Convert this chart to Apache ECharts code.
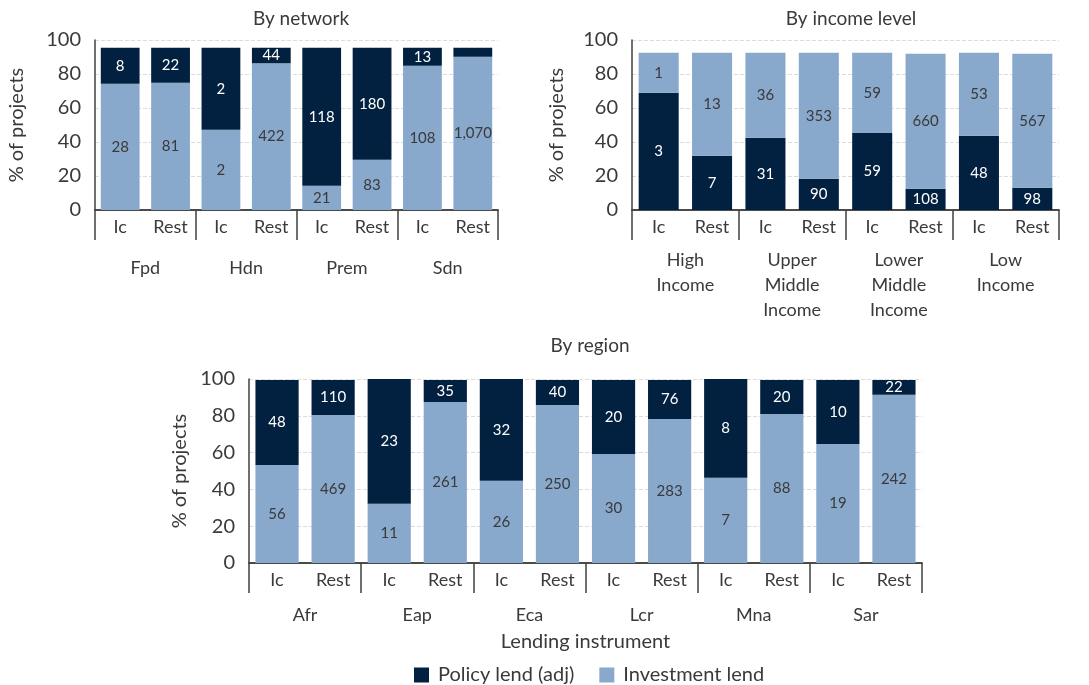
<!DOCTYPE html>
<html>
<head>
<meta charset="utf-8">
<script src="https://cdn.jsdelivr.net/npm/echarts@6/dist/echarts.min.js"></script>
<style>
  html, body { margin: 0; padding: 0; background: #fff; }
  #main { width: 1089px; height: 685px; }
</style>
</head>
<body>
<div id="main"></div>
<script>
// sub categories under each group
const subCats = ['Ic', 'Rest'];

// By network (investment at bottom, policy on top)
const netGroups = ['Fpd', 'Hdn', 'Prem', 'Sdn'];
const netInvest = [74.3, 74.9, 47.2, 86.3, 14.3, 29.6, 84.9, 90.2];
const netPolicy = [21.2, 20.6, 48.3, 9.2, 81.2, 65.9, 10.6, 5.3];
const netInvestLbl = ['28', '81', '2', '422', '21', '83', '108', '1,070'];
const netPolicyLbl = ['8', '22', '2', '44', '118', '180', '13', ''];

// By income level (policy at bottom, investment on top)
const incGroups = ['High\nIncome', 'Upper\nMiddle\nIncome', 'Lower\nMiddle\nIncome', 'Low\nIncome'];
const incPolicy = [69.0, 31.9, 42.5, 18.4, 45.3, 12.5, 43.7, 13.1];
const incInvest = [23.5, 60.6, 50.0, 74.1, 47.2, 79.4, 48.8, 78.8];
const incPolicyLbl = ['3', '7', '31', '90', '59', '108', '48', '98'];
const incInvestLbl = ['1', '13', '36', '353', '59', '660', '53', '567'];

// By region
const regGroups = ['Afr', 'Eap', 'Eca', 'Lcr', 'Mna', 'Sar'];
const regInvest = [53.3, 80.5, 32.2, 87.5, 44.7, 85.9, 59.3, 78.3, 46.3, 81.0, 64.7, 91.4];
const regPolicy = [46.2, 19.0, 67.8, 12.0, 55.3, 13.6, 40.2, 21.2, 53.7, 18.5, 34.8, 8.1];
const regInvestLbl = ['56', '469', '11', '261', '26', '250', '30', '283', '7', '88', '19', '242'];
const regPolicyLbl = ['48', '110', '23', '35', '32', '40', '20', '76', '8', '20', '10', '22'];

const yTicks = { min: 0, max: 100, interval: 20 };

const DARK = '#02203F';
const LIGHT = '#88A8CC';
const TXT = '#3a3a3a';
const FONT = 'Lato';

function subAxis(groups, gridIndex) {
  let d = [];
  groups.forEach(() => { d = d.concat(subCats); });
  return {
    type: 'category', gridIndex: gridIndex, data: d,
    axisLine: { show: true, lineStyle: { color: '#404040', width: 1.5 } },
    axisTick: { show: false },
    axisLabel: { interval: 0, margin: 8, fontSize: 18, color: TXT, fontFamily: FONT },
    splitLine: { show: false }
  };
}

function groupAxis(groups, gridIndex, margin, extra) {
  return Object.assign({
    type: 'category', gridIndex: gridIndex, data: groups, position: 'bottom',
    axisLine: { show: true, lineStyle: { color: '#404040', width: 1.5 } },
    axisTick: { show: true, length: 30, lineStyle: { color: '#404040', width: 1.5 } },
    axisLabel: { interval: 0, margin: margin, fontSize: 18, lineHeight: 25, color: TXT, fontFamily: FONT },
    splitLine: { show: false }
  }, extra || {});
}

function yAxis(gridIndex, nameGap) {
  return {
    type: 'value', gridIndex: gridIndex,
    min: yTicks.min, max: yTicks.max, interval: yTicks.interval,
    name: '% of projects', nameLocation: 'middle', nameGap: nameGap,
    nameTextStyle: { fontSize: 20, color: TXT, fontFamily: FONT },
    axisLine: { show: true, lineStyle: { color: '#404040', width: 1.5 } },
    axisTick: { show: false },
    axisLabel: { fontSize: 20, color: TXT, margin: 14, fontFamily: FONT },
    splitLine: { show: true, lineStyle: { color: '#dcdcdc', type: 'dashed' } }
  };
}

function barSeries(name, data, labels, color, labelColor, xi, yi, stack, gap) {
  return {
    name: name, type: 'bar', stack: stack, data: data,
    xAxisIndex: xi, yAxisIndex: yi,
    barCategoryGap: gap,
    itemStyle: { color: color },
    label: {
      show: true, position: 'inside', fontSize: 15, color: labelColor, fontFamily: FONT,
      formatter: p => labels[p.dataIndex]
    },
    emphasis: { disabled: true }
  };
}

const chart = echarts.init(document.getElementById('main'));
chart.setOption({
  animation: false,
  textStyle: { fontFamily: FONT },
  title: [
    { text: 'By network', left: 296, top: 4, textAlign: 'center',
      textStyle: { fontSize: 19, fontWeight: 'normal', color: TXT, fontFamily: FONT } },
    { text: 'By income level', left: 846, top: 4, textAlign: 'center',
      textStyle: { fontSize: 19, fontWeight: 'normal', color: TXT, fontFamily: FONT } },
    { text: 'By region', left: 585, top: 331, textAlign: 'center',
      textStyle: { fontSize: 19, fontWeight: 'normal', color: TXT, fontFamily: FONT } }
  ],
  legend: {
    data: ['Policy lend (adj)', 'Investment lend'],
    left: 414, top: 664, padding: 0,
    icon: 'rect', itemWidth: 15, itemHeight: 15, itemGap: 25,
    textStyle: { fontSize: 20, lineHeight: 22, color: TXT, fontFamily: FONT, padding: [0, 0, 0, 4] }
  },
  grid: [
    { left: 95, top: 40, width: 403, height: 170 },
    { left: 632, top: 40, width: 427, height: 170 },
    { left: 249, top: 379, width: 673, height: 184 }
  ],
  xAxis: [
    subAxis(netGroups, 0),
    groupAxis(netGroups, 0, 46),
    subAxis(incGroups, 1),
    groupAxis(incGroups, 1, 38),
    subAxis(regGroups, 2),
    groupAxis(regGroups, 2, 40, {
      name: 'Lending instrument', nameLocation: 'middle', nameGap: 69,
      nameTextStyle: { fontSize: 20, color: TXT, fontFamily: FONT }
    })
  ],
  yAxis: [yAxis(0, 68), yAxis(1, 65), yAxis(2, 58)],
  series: [
    barSeries('Investment lend', netInvest, netInvestLbl, LIGHT, TXT, 0, 0, 'net', '23%'),
    barSeries('Policy lend (adj)', netPolicy, netPolicyLbl, DARK, '#ffffff', 0, 0, 'net', '23%'),
    barSeries('Policy lend (adj)', incPolicy, incPolicyLbl, DARK, '#ffffff', 2, 1, 'inc', '25%'),
    barSeries('Investment lend', incInvest, incInvestLbl, LIGHT, TXT, 2, 1, 'inc', '25%'),
    barSeries('Investment lend', regInvest, regInvestLbl, LIGHT, TXT, 4, 2, 'reg', '23%'),
    barSeries('Policy lend (adj)', regPolicy, regPolicyLbl, DARK, '#ffffff', 4, 2, 'reg', '23%')
  ]
});
</script>
</body>
</html>
